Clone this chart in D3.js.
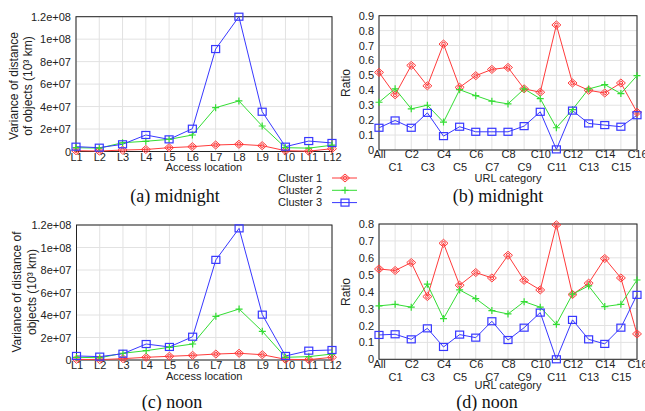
<!DOCTYPE html>
<html>
<head>
<meta charset="utf-8">
<script src="https://cdn.jsdelivr.net/npm/d3@7"></script>
<style>
  body { margin: 0; background: #fff; }
  text { font-family: "Liberation Sans", Arial, sans-serif; }
  .caption { font-family: "Liberation Serif", "Times New Roman", serif; font-size: 18px; }
</style>
</head>
<body>
<div id="chart"></div>
<script>
var locations = ["L1","L2","L3","L4","L5","L6","L7","L8","L9","L10","L11","L12"];
var urlCats = ["All","C1","C2","C3","C4","C5","C6","C7","C8","C9","C10","C11","C12","C13","C14","C15","C16"];
var varTicks = [0, 2e7, 4e7, 6e7, 8e7, 1e8, 1.2e8];
var ratioTicksMid = [0, 0.1, 0.2, 0.3, 0.4, 0.5, 0.6, 0.7, 0.8, 0.9];
var ratioTicksNoon = [0, 0.1, 0.2, 0.3, 0.4, 0.5, 0.6, 0.7, 0.8];

// (a) midnight, variance of distance
var midVar1 = [0.7e6, 0.4e6, 1.3e6, 1.8e6, 3.4e6, 4.3e6, 5.8e6, 6.4e6, 5.2e6, 0.7e6, 0.3e6, 2.5e6];
var midVar2 = [3.4e6, 3.0e6, 7.8e6, 9.1e6, 10.8e6, 14.7e6, 39e6, 45e6, 22.7e6, 3.4e6, 3.0e6, 5.6e6];
var midVar3 = [4.3e6, 3.4e6, 6.4e6, 14.7e6, 10.8e6, 20.3e6, 91.2e6, 120e6, 35.4e6, 4.3e6, 9.3e6, 7.6e6];

// (c) noon, variance of distance
var noonVar1 = [0.6e6, 0.3e6, 1.2e6, 2.4e6, 3.3e6, 4.1e6, 5.3e6, 6.0e6, 4.7e6, 0.6e6, 0.3e6, 2.4e6];
var noonVar2 = [2.4e6, 2.0e6, 6.0e6, 8.3e6, 11.3e6, 14.2e6, 38.8e6, 45.3e6, 25.5e6, 2.4e6, 3.0e6, 5.3e6];
var noonVar3 = [3.6e6, 3.0e6, 5.6e6, 14.2e6, 11.6e6, 20.7e6, 89e6, 117e6, 40.3e6, 3.6e6, 8.3e6, 8.9e6];

// (b) midnight, ratio per URL category
var midRatio1 = [0.52, 0.37, 0.567, 0.43, 0.71, 0.42, 0.498, 0.54, 0.553, 0.41, 0.387, 0.838, 0.449, 0.40, 0.382, 0.449, 0.253];
var midRatio2 = [0.32, 0.41, 0.276, 0.30, 0.187, 0.404, 0.364, 0.327, 0.309, 0.409, 0.344, 0.149, 0.271, 0.409, 0.438, 0.378, 0.498];
var midRatio3 = [0.149, 0.198, 0.149, 0.249, 0.093, 0.156, 0.122, 0.122, 0.122, 0.16, 0.256, 0.004, 0.264, 0.178, 0.167, 0.156, 0.233];

// (d) noon, ratio per URL category
var noonRatio1 = [0.534, 0.525, 0.572, 0.371, 0.686, 0.438, 0.513, 0.481, 0.615, 0.467, 0.41, 0.795, 0.383, 0.45, 0.596, 0.481, 0.15];
var noonRatio2 = [0.316, 0.325, 0.308, 0.444, 0.241, 0.41, 0.359, 0.288, 0.268, 0.341, 0.308, 0.207, 0.385, 0.434, 0.312, 0.325, 0.469];
var noonRatio3 = [0.144, 0.148, 0.118, 0.183, 0.073, 0.146, 0.128, 0.225, 0.114, 0.187, 0.276, 0.0, 0.233, 0.118, 0.091, 0.187, 0.381];

var clusters = ["Cluster 1", "Cluster 2", "Cluster 3"];
var colors = ["#ff3b3b", "#33dd33", "#3838ff"];

var svg = d3.select("#chart").append("svg")
    .attr("width", 645)
    .attr("height", 411);

function expFormat(d) {
  if (d === 0) return "0";
  return d.toExponential().replace(/e\+(\d)$/, "e+0$1");
}

function drawMarker(sel, k, color) {
  if (k === 0) {
    sel.append("path").attr("d", "M0,-4L4.5,0L0,4L-4.5,0Z")
      .attr("fill", "none").attr("stroke", color).attr("stroke-width", 1);
    sel.append("circle").attr("r", 1.8)
      .attr("fill", "none").attr("stroke", color).attr("stroke-width", 1);
  } else if (k === 1) {
    sel.append("path").attr("d", "M-3.5,0H3.5M0,-3.5V3.5")
      .attr("stroke", color).attr("stroke-width", 1.2);
  } else {
    sel.append("rect").attr("x", -4).attr("y", -3.5).attr("width", 8).attr("height", 7)
      .attr("fill", "none").attr("stroke", color).attr("stroke-width", 1.2);
  }
}

function panel(p) {
  var x = d3.scalePoint().domain(p.cats).range([p.left, p.right]);
  var y = d3.scaleLinear().domain([0, p.ymax]).range([p.bottom, p.top]);
  var g = svg.append("g");

  // grid
  g.append("g").selectAll("line.v").data(p.cats).enter().append("line")
    .attr("x1", function(d) { return x(d); }).attr("x2", function(d) { return x(d); })
    .attr("y1", p.top).attr("y2", p.bottom)
    .attr("stroke", "#e2e2e2").attr("stroke-width", 1);
  g.append("g").selectAll("line.h").data(p.ticks).enter().append("line")
    .attr("x1", p.left).attr("x2", p.right)
    .attr("y1", function(d) { return y(d); }).attr("y2", function(d) { return y(d); })
    .attr("stroke", "#e2e2e2").attr("stroke-width", 1);

  // y axis labels
  var ya = g.append("g").attr("transform", "translate(" + p.left + ",0)")
    .call(d3.axisLeft(y).tickValues(p.ticks).tickFormat(p.fmt).tickSize(0).tickPadding(5));
  ya.select(".domain").remove();
  ya.selectAll("text").attr("font-size", 11).attr("fill", "#222")
    .attr("font-family", "Liberation Sans, Arial, sans-serif");

  // x axis labels
  var xa = g.append("g").attr("transform", "translate(0," + p.bottom + ")")
    .call(d3.axisBottom(x).tickSize(0).tickPadding(p.stagger ? 0 : 1));
  xa.select(".domain").remove();
  xa.selectAll("text").attr("font-size", 11).attr("fill", "#222")
    .attr("font-family", "Liberation Sans, Arial, sans-serif")
    .attr("dy", function(d, i) { return p.stagger && i % 2 === 1 ? "1.95em" : "0.75em"; });

  // frame
  g.append("rect").attr("x", p.left).attr("y", p.top)
    .attr("width", p.right - p.left).attr("height", p.bottom - p.top)
    .attr("fill", "none").attr("stroke", "#222").attr("stroke-width", 1);

  // series
  var line = d3.line()
    .x(function(d, i) { return x(p.cats[i]); })
    .y(function(d) { return y(d); });
  p.series.forEach(function(s, k) {
    g.append("path").datum(s).attr("d", line)
      .attr("fill", "none").attr("stroke", colors[k]).attr("stroke-width", 1);
  });
  p.series.forEach(function(s, k) {
    g.append("g").selectAll("g").data(s).enter().append("g")
      .attr("transform", function(d, i) { return "translate(" + x(p.cats[i]) + "," + y(d) + ")"; })
      .each(function() { drawMarker(d3.select(this), k, colors[k]); });
  });

  // axis titles
  g.append("text").attr("x", (p.left + p.right) / 2).attr("y", p.xTitleY)
    .attr("text-anchor", "middle").attr("font-size", 11).attr("fill", "#222").text(p.xTitle);
  p.yTitle.forEach(function(t, i) {
    g.append("text")
      .attr("transform", "translate(" + p.yTitleX[i] + "," + p.yTitleMid + ") rotate(-90)")
      .attr("text-anchor", "middle").attr("font-size", 12).attr("fill", "#222").text(t);
  });

  // caption
  g.append("text").attr("class", "caption").attr("x", p.capX).attr("y", p.capY)
    .attr("text-anchor", "middle").attr("fill", "#111").text(p.caption);
}

panel({ cats: locations, left: 76, right: 332, top: 16.7, bottom: 151.5, ymax: 1.2e8,
  ticks: varTicks, fmt: expFormat, series: [midVar1, midVar2, midVar3], stagger: false,
  xTitle: "Access location", xTitleY: 171,
  yTitle: ["Variance of distance", "of objects (10\u00B3 km)"], yTitleX: [18, 32], yTitleMid: 86,
  caption: "(a) midnight", capX: 175, capY: 202 });

panel({ cats: urlCats, left: 379, right: 637, top: 15.7, bottom: 150, ymax: 0.9,
  ticks: ratioTicksMid, fmt: d3.format(".1~f"), series: [midRatio1, midRatio2, midRatio3], stagger: true,
  xTitle: "URL category", xTitleY: 182,
  yTitle: ["Ratio"], yTitleX: [350], yTitleMid: 83,
  caption: "(b) midnight", capX: 498, capY: 202 });

panel({ cats: locations, left: 76.5, right: 332, top: 225, bottom: 360, ymax: 1.2e8,
  ticks: varTicks, fmt: expFormat, series: [noonVar1, noonVar2, noonVar3], stagger: false,
  xTitle: "Access location", xTitleY: 380,
  yTitle: ["Variance of distance of", "objects (10\u00B3 km)"], yTitleX: [21, 36], yTitleMid: 292,
  caption: "(c) noon", capX: 172, capY: 408 });

panel({ cats: urlCats, left: 379, right: 637, top: 224, bottom: 359.3, ymax: 0.8,
  ticks: ratioTicksNoon, fmt: d3.format(".1~f"), series: [noonRatio1, noonRatio2, noonRatio3], stagger: true,
  xTitle: "URL category", xTitleY: 389,
  yTitle: ["Ratio"], yTitleX: [350], yTitleMid: 292,
  caption: "(d) noon", capX: 487, capY: 408 });

// legend
var legend = svg.append("g");
clusters.forEach(function(c, k) {
  var ly = 178 + k * 12.3;
  legend.append("text").attr("x", 278).attr("y", ly).attr("dy", "0.35em")
    .attr("font-size", 11).attr("fill", "#222").text(c);
  legend.append("line").attr("x1", 332).attr("x2", 357).attr("y1", ly).attr("y2", ly)
    .attr("stroke", colors[k]).attr("stroke-width", 1);
  drawMarker(legend.append("g").attr("transform", "translate(345," + ly + ")"), k, colors[k]);
});
</script>
</body>
</html>
